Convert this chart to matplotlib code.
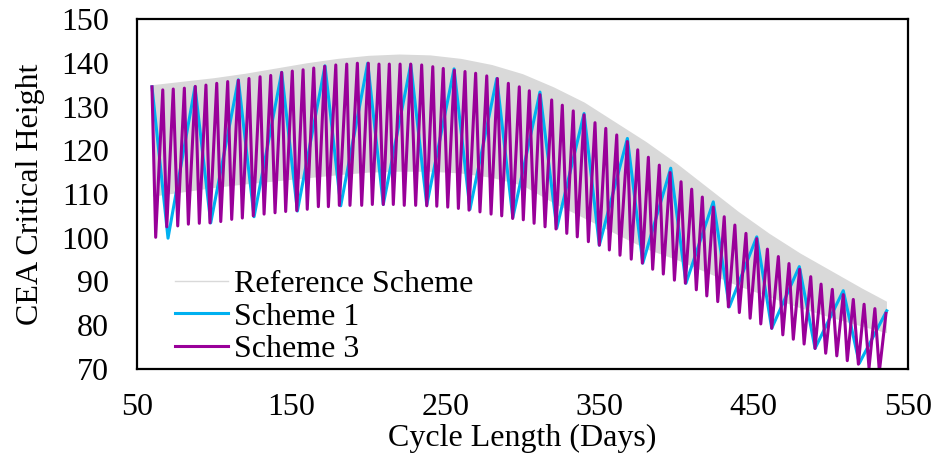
import numpy as np
import matplotlib
matplotlib.use("Agg")
import matplotlib.pyplot as plt
from matplotlib.lines import Line2D

plt.rcParams['font.family'] = ['Liberation Serif', 'DejaVu Serif']

# reference scheme: dense band, given by its upper / lower envelope
ref_days = [60, 80, 100, 120, 140, 160, 180, 200, 220, 240, 260, 280, 300,
            320, 340, 360, 380, 400, 420, 440, 460, 480, 500, 520, 536]
ref_upper = [135.0, 135.8, 136.6, 137.6, 138.8, 140.0, 141.0, 141.7, 142.0,
             141.8, 141.0, 139.6, 137.5, 134.5, 131.0, 126.5, 122.0, 117.0,
             111.5, 106.0, 101.0, 96.5, 92.5, 88.5, 85.5]
ref_lower = [109.5, 110.5, 111.5, 112.3, 113.0, 113.7, 114.4, 115.0, 115.2,
             115.2, 114.8, 113.8, 112.0, 108.0, 104.5, 101.0, 97.5, 95.0,
             92.0, 89.0, 86.5, 84.0, 81.8, 79.8, 78.3]

# scheme 1 (cyan) turning points
s1_days = [59.7, 70.1, 87.6, 97.8, 115.7, 125.9, 143.8, 154.0, 171.9, 182.1,
           199.6, 209.7, 227.5, 237.9, 255.6, 265.9, 283.3, 293.7, 311.3, 322.2,
           339.9, 349.8, 368.0, 378.0, 396.1, 406.0, 423.7, 434.1, 451.9, 461.6,
           479.5, 489.7, 508.0, 518.4, 536.2]
s1_vals = [134.5, 99.9, 134.5, 103.4, 136.1, 104.8, 137.8, 106.1, 139.3, 107.3,
           139.9, 107.6, 139.6, 107.5, 138.6, 106.5, 136.4, 104.6, 133.3, 102.2,
           128.4, 98.3, 122.7, 94.2, 115.9, 89.6, 108.2, 84.2, 100.2, 79.3,
           93.4, 74.7, 87.9, 71.3, 83.3]

# scheme 3 (purple) peaks and troughs
s3_peak_days = [66.7, 73.5, 80.7, 87.8, 94.7, 101.7, 108.8, 115.7, 122.6, 129.8,
                136.7, 143.8, 150.7, 157.7, 164.6, 171.7, 178.9, 186.0, 192.9, 200.0,
                206.9, 213.6, 220.6, 227.5, 234.6, 241.8, 248.6, 255.8, 262.7, 269.6,
                276.8, 283.7, 290.8, 297.9, 304.4, 311.3, 318.9, 325.8, 332.9, 339.9,
                347.0, 354.0, 361.1, 368.0, 374.7, 381.6, 388.7, 395.7, 402.8, 409.7,
                416.6, 423.7, 430.8, 437.7, 444.9, 451.9, 458.8, 465.9, 472.8, 479.7,
                486.9, 493.6, 500.9, 508.0, 514.5, 521.5, 528.5]
s3_peak_vals = [133.8, 134.0, 134.2, 134.6, 134.9, 135.3, 135.7, 136.0, 136.4, 136.8,
                137.1, 137.8, 138.1, 138.4, 138.8, 139.2, 139.5, 139.7, 139.9, 139.9,
                139.7, 139.7, 139.7, 139.7, 139.5, 139.1, 138.7, 138.3, 138.0, 137.6,
                137.0, 136.4, 135.3, 134.5, 133.6, 132.7, 131.5, 130.3, 129.0, 128.1,
                126.3, 125.0, 123.5, 122.0, 120.1, 118.4, 116.6, 114.9, 112.8, 111.1,
                109.3, 107.0, 104.8, 102.9, 101.0, 99.8, 97.4, 95.7, 94.1, 92.8,
                91.1, 89.4, 88.2, 87.0, 85.9, 84.8, 83.8]
s3_trough_days = [62.1, 69.3, 76.4, 83.3, 90.4, 97.3, 104.3, 111.4, 118.3, 125.4,
                  132.4, 139.5, 146.4, 153.6, 160.4, 167.6, 174.1, 181.2, 188.1, 195.7,
                  202.6, 209.7, 216.2, 223.3, 230.7, 237.9, 244.4, 251.5, 258.4, 265.3,
                  272.4, 279.6, 286.5, 293.6, 300.5, 307.5, 314.6, 321.7, 328.7, 335.5,
                  342.7, 349.8, 356.3, 363.2, 370.5, 377.7, 384.4, 391.3, 398.5, 405.6,
                  412.7, 419.5, 426.6, 433.5, 440.6, 447.6, 454.5, 461.6, 468.8, 475.6,
                  482.6, 489.7, 496.6, 503.8, 510.6, 517.8, 524.7, 531.4]
s3_trough_vals = [100.1, 102.5, 102.7, 103.1, 103.3, 103.4, 103.7, 104.2, 104.5, 105.0,
                  105.4, 105.7, 106.0, 106.2, 106.5, 107.1, 107.1, 107.4, 107.4, 107.4,
                  107.6, 107.6, 107.6, 107.4, 107.4, 107.3, 107.2, 107.0, 106.7, 106.3,
                  105.9, 105.4, 105.0, 104.4, 104.1, 103.3, 102.5, 102.0, 101.0, 100.2,
                  99.1, 98.3, 97.2, 96.0, 95.1, 94.2, 92.8, 91.7, 90.3, 89.6,
                  88.1, 86.7, 85.4, 84.2, 82.9, 81.6, 80.3, 79.3, 77.8, 76.8,
                  75.7, 74.7, 73.6, 73.0, 71.9, 71.1, 70.2, 69.4]
s3_start = (59.7, 134.5)
s3_end = (535.7, 82.7)

# interleave trough/peak turning points into one line
s3_x = [s3_start[0]]
s3_y = [s3_start[1]]
for i in range(len(s3_trough_days)):
    s3_x.append(s3_trough_days[i])
    s3_y.append(s3_trough_vals[i])
    if i < len(s3_peak_days):
        s3_x.append(s3_peak_days[i])
        s3_y.append(s3_peak_vals[i])
s3_x.append(s3_end[0])
s3_y.append(s3_end[1])

gray = '#d9d9d9'
cyan = '#00b0f0'
purple = '#990099'
fs = 23

fig = plt.figure(figsize=(9.34, 4.57), dpi=100)
ax = fig.add_axes([0.1467, 0.1926, 0.8255, 0.7658])

ax.fill_between(ref_days, ref_lower, ref_upper, color=gray, lw=0)
ax.plot(s1_days, s1_vals, color=cyan, lw=2.2)
ax.plot(s3_x, s3_y, color=purple, lw=2.2)

ax.set_xlim(50, 550)
ax.set_ylim(70, 150)
ax.set_xticks([50, 150, 250, 350, 450, 550])
ax.set_yticks(range(70, 151, 10))
ax.tick_params(length=0, labelsize=fs)
ax.tick_params(axis='y', pad=20)
ax.tick_params(axis='x', pad=17)
for s in ax.spines.values():
    s.set_linewidth(1.6)
    s.set_color('black')

ax.set_xlabel('Cycle Length (Days)', fontsize=fs, labelpad=2)
ax.set_ylabel('CEA Critical Height', fontsize=fs, labelpad=12)

handles = [Line2D([], [], color=gray, lw=1.0),
           Line2D([], [], color=cyan, lw=2.2),
           Line2D([], [], color=purple, lw=2.2)]
ax.legend(handles, ['Reference Scheme', 'Scheme 1', 'Scheme 3'],
          loc='lower left', bbox_to_anchor=(0.02, -0.05), frameon=False,
          fontsize=fs, handlelength=1.65, handletextpad=0.2, labelspacing=0.1,
          borderpad=0.2)

fig.savefig('out.png', dpi=100)
